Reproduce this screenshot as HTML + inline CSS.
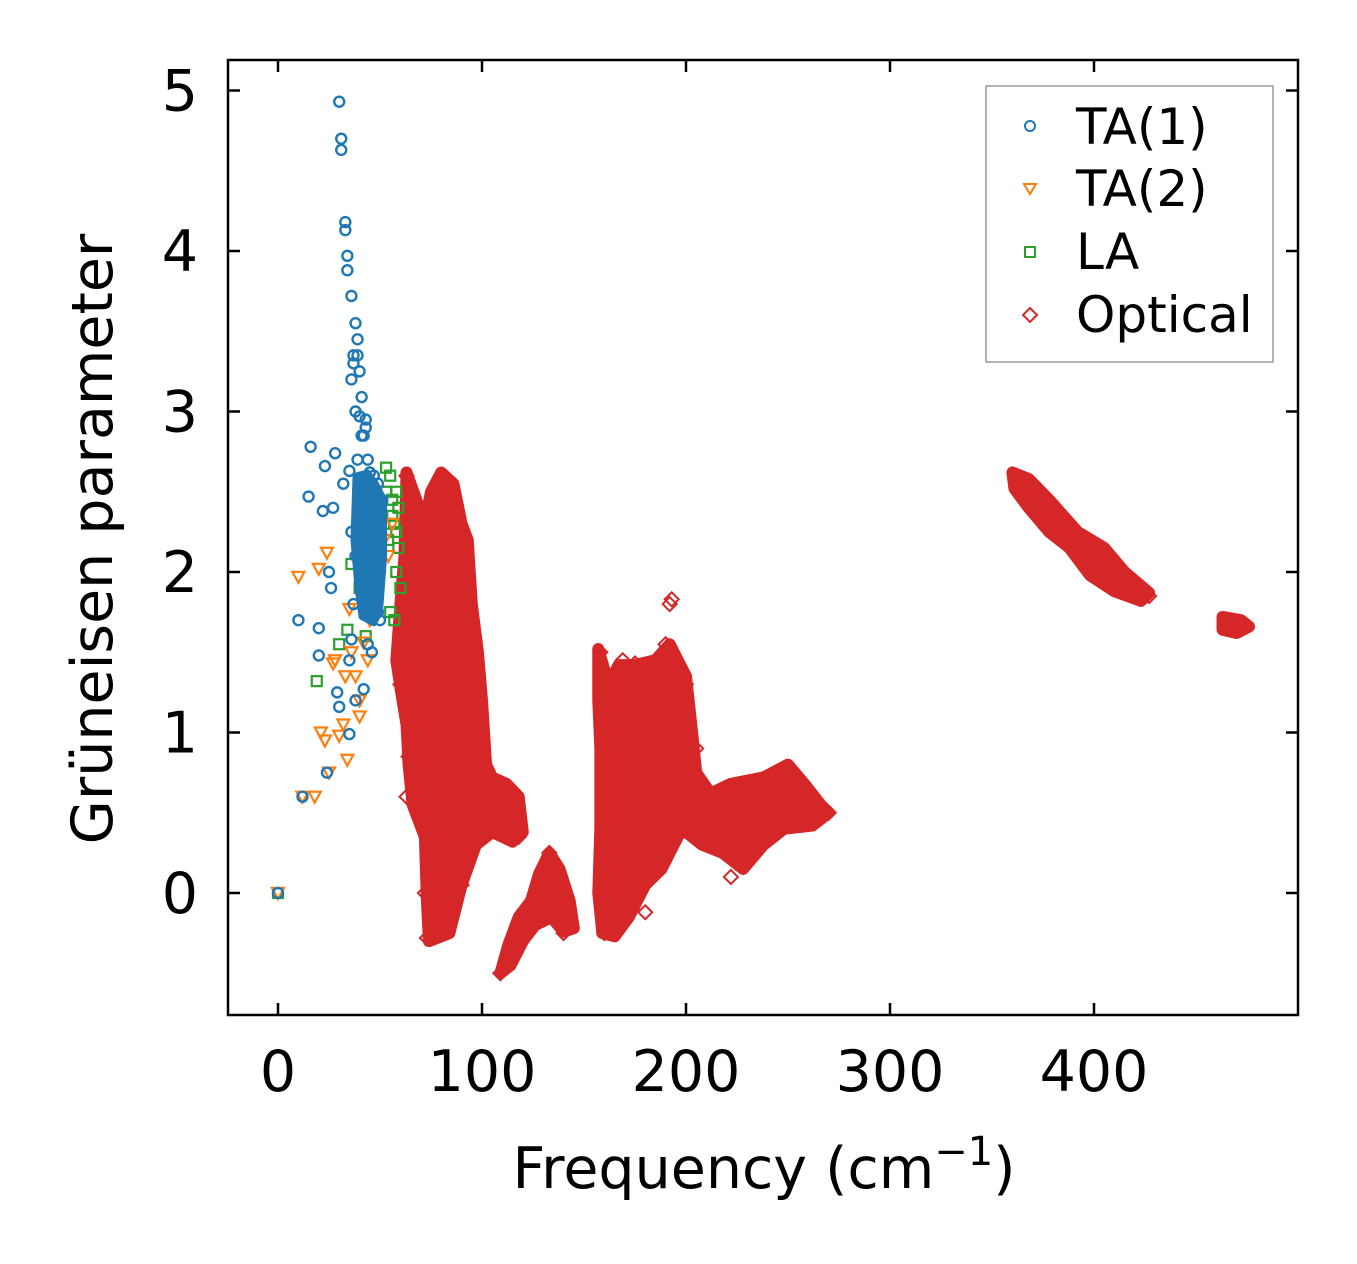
<!DOCTYPE html>
<html><head><meta charset="utf-8"><style>
html,body{margin:0;padding:0;background:#fff}
svg{display:block}
text{font-family:"DejaVu Sans","Liberation Sans",sans-serif;fill:#000}
</style></head><body>
<svg id="chart" width="1357" height="1264" viewBox="0 0 1357 1264">
<g id="plot"></g>
<rect x="228" y="60" width="1070" height="955" fill="none" stroke="#000" stroke-width="2.5"/>
<g id="axes"></g>
<text x="764" y="1188" font-size="57" text-anchor="middle">Frequency (cm<tspan dy="-23" font-size="40">−1</tspan><tspan dy="23">)</tspan></text>
<text x="0" y="0" font-size="57" text-anchor="middle" transform="translate(112,539) rotate(-90)">Grüneisen parameter</text>
<g>
<rect x="986" y="86" width="287" height="276" fill="#fff" stroke="#999" stroke-width="1.5"/>
<circle cx="1030" cy="126" r="5" fill="none" stroke="#1f77b4" stroke-width="2"/>
<text x="1076" y="144" font-size="50">TA(1)</text>
<polygon points="1024,184 1036,184 1030,194" fill="none" stroke="#ff7f0e" stroke-width="2"/>
<text x="1076" y="206" font-size="50">TA(2)</text>
<rect x="1025" y="247" width="10" height="10" fill="none" stroke="#2ca02c" stroke-width="2"/>
<text x="1076" y="269" font-size="50">LA</text>
<polygon points="1030,308 1037,315 1030,322 1023,315" fill="none" stroke="#d62728" stroke-width="2"/>
<text x="1076" y="332" font-size="50">Optical</text>
</g>
</svg>
<script>
const xTicks=[0,100,200,300,400];
const yTicks=[0,1,2,3,4,5];
const ta1F=[0,12,10,15,16,20,20,22,23,24,25,26,27,28,29,30,30,31,31,32,33,33,34,34,35,35,36,36,37,38,38,39,39,40,40,41,42,42,43,43,44,44,45,45,46,46,47,48,48,49,50,50,35,38,42,44,46,40,37,45,36,37,39,41,43,36,38,40,42,47,49,51];
const ta1G=[0,0.6,1.7,2.47,2.78,1.65,1.48,2.38,2.66,0.75,2.0,1.9,2.4,2.74,1.25,4.93,1.16,4.63,4.7,2.55,4.13,4.18,3.88,3.97,2.63,0.99,3.72,1.58,3.3,3.55,3.0,3.45,2.7,3.25,2.97,3.09,2.85,2.5,2.9,2.3,2.2,2.7,2.1,2.55,1.9,2.4,2.0,1.8,2.3,1.75,1.7,2.0,1.45,1.2,1.27,1.55,1.5,2.4,1.8,2.62,3.2,3.35,3.35,2.85,2.95,2.25,2.1,2.0,2.45,2.6,2.55,2.45];
const ta2F=[0,12,10,18,20,21,23,25,27,30,32,34,35,36,38,40,42,44,45,47,48,50,52,54,56,24,28,33,40,46];
const ta2G=[0,0.6,1.97,0.6,2.02,1.0,0.95,0.75,1.43,0.98,1.05,0.83,1.77,1.5,1.35,1.2,1.56,1.45,1.7,1.9,1.82,2.05,2.2,2.1,2.3,2.12,1.45,1.35,1.1,1.95];
const laF=[0,19,30,34,36,40,43,46,48,50,52,53,55,56,57,58,59,60,55,58,54,57,56,59,53,58];
const laG=[0,1.32,1.55,1.64,2.05,1.9,1.6,1.85,1.95,2.1,2.3,2.65,2.6,2.45,2.3,2.5,2.15,1.9,1.75,2.0,2.2,1.7,2.35,2.4,2.5,2.25];
const blobA=[[63,2.62],[72,2.3],[75,2.5],[80,2.62],[86,2.55],[90,2.3],[93,2.2],[95,1.8],[98,1.5],[100,1.2],[102,0.8],[105,0.72],[112,0.68],[118,0.6],[120,0.38],[115,0.32],[105,0.38],[97,0.3],[90,0.05],[84,-0.25],[74,-0.3],[73,-0.05],[72,0.35],[66,0.55],[64,0.8],[63,1.05],[60,1.28],[58,1.45],[60,1.8],[62,2.1]];
const blobB=[[109,-0.5],[113,-0.32],[118,-0.15],[124,-0.05],[128,0.12],[133,0.25],[138,0.15],[143,-0.05],[145,-0.22],[140,-0.24],[134,-0.15],[126,-0.2],[120,-0.3],[114,-0.45]];
const blobC=[[157,1.52],[162,1.3],[167,1.42],[175,1.42],[185,1.45],[192,1.55],[200,1.35],[203,1.0],[205,0.75],[212,0.62],[222,0.68],[238,0.72],[250,0.8],[258,0.68],[266,0.55],[270,0.5],[262,0.42],[248,0.4],[238,0.3],[228,0.15],[218,0.25],[208,0.3],[198,0.4],[188,0.15],[180,0.05],[172,-0.15],[165,-0.27],[159,-0.25],[157,0.0],[158,0.4],[158,0.9],[157,1.2]];
const blobD=[[360,2.62],[368,2.58],[378,2.45],[392,2.25],[405,2.15],[415,2.0],[427,1.87],[423,1.82],[410,1.88],[398,1.98],[388,2.15],[378,2.25],[368,2.4],[361,2.52]];
const blobE=[[463,1.72],[472,1.7],[476,1.66],[470,1.62],[463,1.64]];
const blueCore=[[38,2.6],[44,2.62],[48,2.55],[52,2.45],[52,2.1],[50,1.75],[47,1.68],[41,1.72],[39,1.9],[37,2.2]];
const optF=[63,80,85,92,73,75,70,66,64,60,63,82,96,110,118,90,72,109,125,133,143,140,158,162,175,190,192,193,200,205,180,165,160,215,222,250,265,270,210,183,169,228,362,380,398,410,427,470,100,78,88];
const optG=[2.6,2.6,2.3,2.2,-0.28,-0.25,0.7,1.05,0.85,1.3,0.6,2.45,1.1,0.6,0.35,0.05,0.0,-0.5,-0.05,0.25,-0.2,-0.25,1.5,1.35,1.43,1.55,1.8,1.83,1.3,0.9,-0.12,-0.23,-0.25,0.55,0.1,0.78,0.5,0.5,0.35,0.15,1.45,0.55,2.6,2.3,2.15,2.0,1.85,1.67,0.7,0.4,1.0];

const X=v=>278+v*2.04, Y=v=>893-v*160.5;
const NS='http://www.w3.org/2000/svg';
const plot=document.getElementById('plot'), axes=document.getElementById('axes');
function mk(tag,attrs,parent){const e=document.createElementNS(NS,tag);for(const k in attrs)e.setAttribute(k,attrs[k]);parent.appendChild(e);return e;}
[blobA,blobB,blobC,blobD,blobE].forEach((b,i)=>{
  const p=mk('polygon',{points:b.map(q=>X(q[0])+','+Y(q[1])).join(' '),fill:'#d62728',stroke:'#d62728','stroke-width':12,'stroke-linejoin':'round'},plot);
  
  
});
optF.forEach((f,i)=>{const x=X(f),y=Y(optG[i]);
  const p=mk('polygon',{points:`${x},${y-7} ${x+7},${y} ${x},${y+7} ${x-7},${y}`,fill:'none',stroke:'#d62728','stroke-width':2},plot);
  
  });
laF.forEach((f,i)=>{const x=X(f),y=Y(laG[i]);
  const r=mk('rect',{x:x-5,y:y-5,width:10,height:10,fill:'none',stroke:'#2ca02c','stroke-width':2.2},plot);
  
  });
ta2F.forEach((f,i)=>{const x=X(f),y=Y(ta2G[i]);
  const p=mk('polygon',{points:`${x-6},${y-5} ${x+6},${y-5} ${x},${y+6}`,fill:'none',stroke:'#ff7f0e','stroke-width':2.2},plot);
  
  });
const core=mk('polygon',{points:blueCore.map(q=>X(q[0])+','+Y(q[1])).join(' '),fill:'#1f77b4',stroke:'#1f77b4','stroke-width':6,'stroke-linejoin':'round'},plot);


ta1F.forEach((f,i)=>{
  const c=mk('circle',{cx:X(f),cy:Y(ta1G[i]),r:5,fill:'none',stroke:'#1f77b4','stroke-width':2.4},plot);
  
  });
xTicks.forEach(t=>{const x=X(t);
  mk('line',{x1:x,x2:x,y1:1015,y2:1003,stroke:'#000','stroke-width':2.5},axes);
  mk('line',{x1:x,x2:x,y1:60,y2:72,stroke:'#000','stroke-width':2.5},axes);
  const tx=mk('text',{x:x,y:1091,'font-size':57,'text-anchor':'middle'},axes);tx.textContent=t;
  
  });
yTicks.forEach(t=>{const y=Y(t);
  mk('line',{x1:228,x2:240,y1:y,y2:y,stroke:'#000','stroke-width':2.5},axes);
  mk('line',{x1:1298,x2:1286,y1:y,y2:y,stroke:'#000','stroke-width':2.5},axes);
  const tx=mk('text',{x:198,y:y+20,'font-size':57,'text-anchor':'end'},axes);tx.textContent=t;
  
  });
</script>
</body></html>
